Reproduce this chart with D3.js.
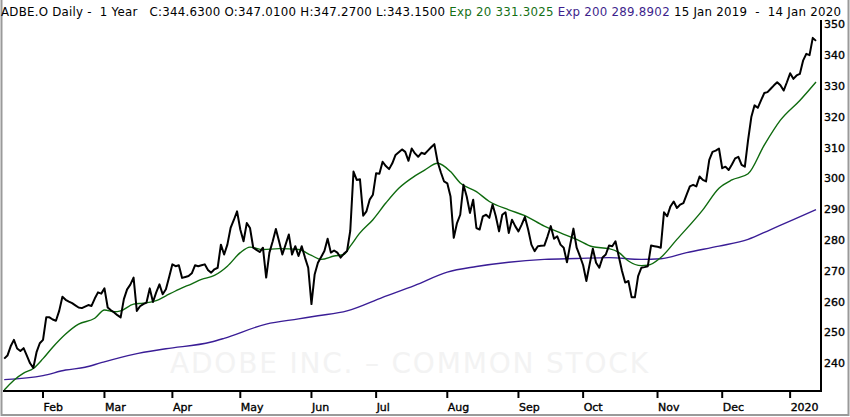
<!DOCTYPE html>
<html>

<head>
    <meta charset="utf-8">
    <style>
        body {
            margin: 0;
            background: white;
        }

        .chart-container {
            width: 850px;
            height: 417px;
            font-family: 'DejaVu Sans', Verdana, sans-serif;
        }

        svg {
            display: block;
        }

        .axis-label {
            font-size: 11px;
            fill: #000;
            stroke: #000;
            stroke-width: 0.35px;
        }

        .header {
            white-space: pre;
        }
    </style>
</head>

<body>
    <div class="chart-container">
        <svg width="850" height="417"></svg>
    </div>
</body>

<script src="https://d3js.org/d3.v7.min.js"></script>

<script>
    // daily closes, 15 Jan 2019 .. 14 Jan 2020 (one per trading day)
    let closes = [
        241.5, 242.5, 245.5, 247.6, 244.8, 244.0, 244.9, 242.5, 240.0, 238.5,
        243.6, 246.5, 247.6, 254.9, 254.9, 254.2, 253.8, 257.0, 261.6, 260.6,
        260.0, 259.5, 258.8, 258.1, 257.9, 258.4, 258.9, 258.6, 261.0, 263.0,
        262.6, 264.3, 258.1, 257.2, 256.5, 255.6, 254.9, 260.8, 264.0, 265.5,
        267.8, 257.0, 258.5, 259.2, 259.7, 264.3, 259.9, 263.0, 265.6, 262.4,
        264.0, 268.0, 272.1, 271.5, 271.8, 267.7, 268.0, 268.3, 269.2, 271.8,
        271.5, 271.8, 272.1, 270.3, 269.4, 270.5, 271.0, 278.5, 275.3, 278.5,
        283.9, 286.5, 289.3, 283.4, 279.6, 285.5, 283.9, 277.5, 276.8, 276.1,
        277.5, 267.8, 275.9, 279.5, 283.6, 279.5, 275.3, 278.5, 281.8, 275.3,
        278.0, 274.8, 278.0, 274.3, 271.0, 259.2, 268.9, 272.6, 274.5, 276.4,
        280.4, 275.9, 276.6, 275.9, 274.3, 275.5, 276.4, 283.0, 302.2, 299.5,
        299.7, 287.9, 289.3, 293.1, 294.7, 301.7, 301.5, 305.4, 304.0, 303.0,
        304.9, 307.6, 308.5, 309.4, 308.6, 305.7, 309.7, 308.1, 307.0, 308.3,
        307.9, 309.0, 310.1, 311.1, 305.4, 302.0, 299.0, 298.4, 294.1, 280.7,
        285.5, 288.2, 297.9, 294.1, 288.8, 293.1, 283.9, 283.4, 287.7, 288.2,
        287.2, 291.5, 287.7, 282.8, 288.2, 289.0, 282.3, 286.6, 284.5, 282.8,
        285.0, 287.5, 283.4, 278.5, 276.4, 278.0, 278.1, 278.2, 281.2, 284.5,
        280.4, 281.2, 278.5, 277.5, 272.8, 278.5, 283.7, 277.5, 274.8, 271.8,
        266.7, 272.1, 277.2, 272.6, 271.0, 274.3, 275.3, 278.2, 278.0, 279.6,
        274.8, 270.0, 266.2, 266.7, 261.4, 261.4, 268.3, 271.0, 271.2, 271.5,
        278.2, 278.0, 277.8, 277.5, 289.0, 287.7, 290.9, 292.5, 290.4, 291.5,
        292.0, 294.7, 297.4, 297.9, 297.4, 300.6, 299.5, 299.0, 306.0, 308.6,
        309.0, 309.7, 303.3, 303.8, 302.7, 304.5, 306.5, 307.0, 304.4, 303.8,
        312.4, 319.9, 323.7, 322.9, 325.3, 327.7, 328.0, 329.1, 330.2, 331.2,
        330.2, 328.5, 331.2, 334.1, 332.3, 333.4, 333.9, 338.2, 340.4, 340.0,
        345.6, 344.63
    ]

    // Exp 20 at these trading-day positions
    let ema20Day = [0, 3, 6, 9, 12, 15, 19, 23, 28, 31, 34, 36, 40, 43, 47, 50, 54, 58, 61, 65,
        69, 73, 76, 80, 85, 91, 95, 98, 102, 105, 107, 110, 114, 118, 122, 127, 130, 134, 138, 141,
        146, 150, 156, 161, 167, 172, 177, 182, 187, 190, 193, 197, 199, 203, 208, 216, 221, 225, 230, 235,
        240, 246, 251]
    let ema20Val = [231.3, 234.5, 236.8, 238.3, 241.5, 245.2, 249.5, 252.7, 254.6, 257.3, 256.7, 257.0, 259.2, 259.5, 260.3, 261.9, 264.0, 265.8, 267.2, 268.5,
        271.5, 275.9, 277.7, 276.9, 277.2, 276.9, 275.0, 273.7, 274.8, 275.3, 278.0, 282.3, 286.6, 292.0, 296.8, 300.8, 302.7, 304.9, 302.2, 298.5,
        295.7, 292.5, 289.8, 287.9, 284.5, 282.3, 280.2, 277.8, 277.2, 276.0, 273.2, 271.7, 271.8, 274.3, 280.2, 289.8, 296.8, 299.5, 301.5, 310.8,
        318.9, 325.3, 331.3025]

    // Exp 200 at these trading-day positions
    let ema200Day = [0, 12, 19, 25, 30, 40, 50, 64, 68, 81, 91, 97, 106, 117, 127, 137, 146, 156, 167, 177,
        187, 197, 203, 211, 221, 230, 237, 244, 251]
    let ema200Val = [234.7, 236.0, 237.8, 238.7, 240.2, 242.9, 244.7, 246.9, 248.1, 252.7, 254.4, 255.4, 257.0, 261.4, 265.3, 269.6, 271.4, 272.8, 273.7, 274.0,
        274.3, 273.7, 273.9, 275.9, 278.0, 280.2, 283.4, 286.6, 289.8902]

    // month labels and the trading day each month starts on
    let monthLabels = ["Feb", "Mar", "Apr", "May", "Jun", "Jul", "Aug", "Sep", "Oct", "Nov", "Dec", "2020"]
    let monthStart = [12, 31, 52, 73, 95, 115, 137, 159, 179, 202, 222, 243]

    let priceTicks = [240, 250, 260, 270, 280, 290, 300, 310, 320, 330, 340, 350]

    let headerParts = [
        { t: "ADBE.O Daily -  1 Year   C:344.6300 O:347.0100 H:347.2700 L:343.1500 ", c: "#000" },
        { t: "Exp 20 331.3025 ", c: "#157015" },
        { t: "Exp 200 289.8902 ", c: "#3d1f8c" },
        { t: "15 Jan 2019  -  14 Jan 2020", c: "#000" }
    ]

    let svg = d3.select("svg")

    let plotLeft = 3, plotRight = 821, plotTop = 20, plotBottom = 391

    let x = d3.scaleLinear()
        .domain([0, closes.length - 1])
        .range([4.2, 816])

    let y = d3.scaleLinear()
        .domain([231.0, 351.4])
        .range([plotBottom, plotTop])

    // outer frame (left, bottom, right)
    svg.append("path")
        .attr("d", "M1.5,0 V415 H848.5 V0")
        .style("fill", "none")
        .style("stroke", "#9a9a9a")
        .style("stroke-width", 2)

    // watermark
    svg.append("text")
        .attr("x", 170)
        .attr("y", 373)
        .attr("textLength", 478)
        .attr("lengthAdjust", "spacing")
        .style("font-size", "28px")
        .style("fill", "#f3f3f3")
        .text("ADOBE INC.  \u2013  COMMON STOCK")

    // header
    let header = svg.append("text")
        .attr("class", "header")
        .attr("x", 1)
        .attr("y", 16)
        .attr("textLength", 840)
        .attr("lengthAdjust", "spacing")
        .style("font-size", "11.8px")

    header.selectAll("tspan")
        .data(headerParts)
        .join("tspan")
        .style("fill", d => d.c)
        .text(d => d.t)

    let clip = svg.append("clipPath").attr("id", "plot-clip")
    clip.append("rect")
        .attr("x", plotLeft)
        .attr("y", plotTop)
        .attr("width", plotRight - plotLeft)
        .attr("height", plotBottom - plotTop)

    let plot = svg.append("g").attr("clip-path", "url(#plot-clip)")

    let emaLine = d3.line()
        .x(d => x(d[0]))
        .y(d => y(d[1]))
        .curve(d3.curveMonotoneX)

    plot.append("path")
        .attr("d", emaLine(d3.zip(ema200Day, ema200Val)))
        .style("fill", "none")
        .style("stroke", "#3a1d96")
        .style("stroke-width", 1.4)

    plot.append("path")
        .attr("d", emaLine(d3.zip(ema20Day, ema20Val)))
        .style("fill", "none")
        .style("stroke", "#0e6a0e")
        .style("stroke-width", 1.4)

    let priceLine = d3.line()
        .x((d, i) => x(i))
        .y(d => y(d))

    plot.append("path")
        .attr("d", priceLine(closes))
        .style("fill", "none")
        .style("stroke", "#000")
        .style("stroke-width", 2)
        .style("stroke-linejoin", "round")

    // bottom axis
    let xAxis = svg.append("g")
    xAxis.append("line")
        .attr("x1", plotLeft).attr("x2", plotRight + 1)
        .attr("y1", plotBottom).attr("y2", plotBottom)
        .style("stroke", "#000")
        .style("stroke-width", 2)

    xAxis.selectAll(".tick")
        .data(monthStart)
        .join("line")
        .attr("class", "tick")
        .attr("x1", d => x(d)).attr("x2", d => x(d))
        .attr("y1", plotBottom).attr("y2", plotBottom + 7)
        .style("stroke", "#000")
        .style("stroke-width", 2)

    xAxis.selectAll(".axis-label")
        .data(monthStart)
        .join("text")
        .attr("class", "axis-label")
        .attr("x", d => x(d) + 0.5)
        .attr("y", 411)
        .text((d, i) => monthLabels[i])

    // right axis
    let yAxis = svg.append("g")
    yAxis.append("line")
        .attr("x1", plotRight).attr("x2", plotRight)
        .attr("y1", plotTop).attr("y2", plotBottom + 1)
        .style("stroke", "#000")
        .style("stroke-width", 2)

    yAxis.selectAll(".axis-label")
        .data(priceTicks)
        .join("text")
        .attr("class", "axis-label")
        .attr("x", plotRight + 3)
        .attr("y", d => y(d))
        .attr("dy", "0.36em")
        .text(d => d)
</script>

</html>
